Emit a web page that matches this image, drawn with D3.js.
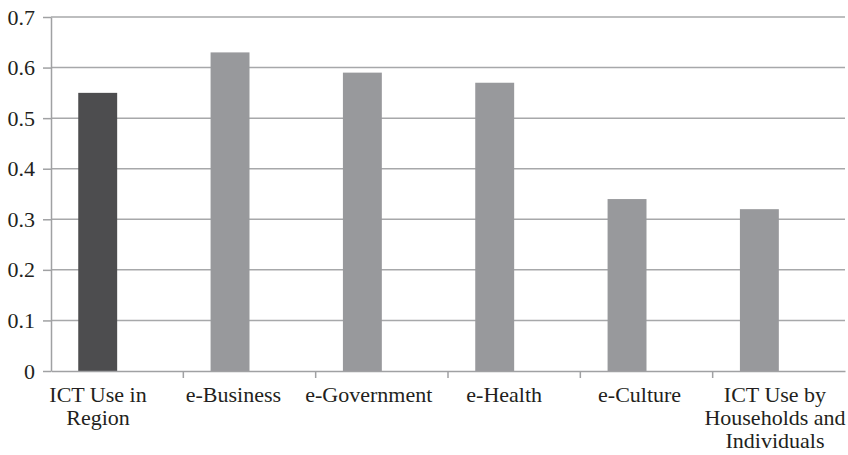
<!DOCTYPE html>
<html>
<head>
<script src="https://d3js.org/d3.v7.min.js" charset="utf-8"></script>
<style>
  body { margin: 0; background: #fff; }
  text { font-family: "Liberation Serif", "DejaVu Serif", serif; fill: #231f20; }
</style>
</head>
<body>
<script>
// data
var categories = ["ICT Use in Region", "e-Business", "e-Government", "e-Health", "e-Culture", "ICT Use by Households and Individuals"];
var labelLines = [["ICT Use in", "Region"], ["e-Business"], ["e-Government"], ["e-Health"], ["e-Culture"], ["ICT Use by", "Households and", "Individuals"]];
var values = [0.55, 0.63, 0.59, 0.57, 0.34, 0.32];
var barColors = ["#4d4d4f", "#98999c", "#98999c", "#98999c", "#98999c", "#98999c"];
var yTicks = [0, 0.1, 0.2, 0.3, 0.4, 0.5, 0.6, 0.7];

var w = 848, h = 455;
var mLeft = 51, mRight = 845, mTop = 17, mBottom = 371;
var fontSize = "22px";

var svg = d3.select("body").append("svg")
  .attr("width", w)
  .attr("height", h);

var x = d3.scaleBand()
  .domain(categories)
  .range([mLeft, mRight]);

// bars sit in the first slot of a two-slot cluster
var slot = d3.scaleBand()
  .domain(["a", "b"])
  .range([0, x.bandwidth()])
  .paddingOuter(0.7);

// labels in the original are spread a bit wider than the bands
var xLabel = d3.scalePoint()
  .domain(categories)
  .range([98, 775]);

var y = d3.scaleLinear()
  .domain([0, 0.7])
  .range([mBottom, mTop]);

// gridlines
svg.append("g")
  .selectAll("line")
  .data(yTicks.filter(d => d > 0))
  .enter()
  .append("line")
  .attr("x1", mLeft)
  .attr("x2", mRight)
  .attr("y1", d => y(d))
  .attr("y2", d => y(d))
  .attr("stroke", "#a7a8aa")
  .attr("stroke-width", 1.5);

// bars
svg.append("g")
  .selectAll("rect")
  .data(values)
  .enter()
  .append("rect")
  .attr("x", (d, i) => x(categories[i]) + slot("a"))
  .attr("width", slot.bandwidth())
  .attr("y", d => y(d))
  .attr("height", d => y(0) - y(d))
  .attr("fill", (d, i) => barColors[i]);

// x axis
var xAxis = d3.axisBottom(x)
  .tickSize(0)
  .tickSizeOuter(0)
  .tickFormat("");

var gx = svg.append("g")
  .attr("transform", "translate(0," + mBottom + ")")
  .call(xAxis);
gx.select("path").attr("stroke", "#a0a1a3").attr("stroke-width", 1.5);

// category dividers
gx.selectAll(".divider")
  .data(categories.slice(1))
  .enter()
  .append("line")
  .attr("x1", d => x(d))
  .attr("x2", d => x(d))
  .attr("y1", 0)
  .attr("y2", 7)
  .attr("stroke", "#a0a1a3")
  .attr("stroke-width", 1.5);

// y axis
var yAxis = d3.axisLeft(y)
  .tickValues(yTicks)
  .tickFormat(d => d === 0 ? "0" : d3.format(".1f")(d))
  .tickSize(8)
  .tickSizeOuter(0)
  .tickPadding(8);

var gy = svg.append("g")
  .attr("transform", "translate(" + mLeft + ",0)")
  .call(yAxis);
gy.selectAll("path").attr("stroke", "#a0a1a3").attr("stroke-width", 1.5);
gy.selectAll("line").attr("stroke", "#a0a1a3").attr("stroke-width", 1.5);
gy.selectAll("text")
  .attr("font-size", fontSize)
  .attr("fill", "#231f20");

// category labels
var lab = svg.append("g")
  .selectAll("text")
  .data(categories)
  .enter()
  .append("text")
  .attr("text-anchor", "middle")
  .attr("x", d => xLabel(d))
  .attr("y", mBottom + 31)
  .style("font-size", fontSize);

lab.each(function(d, i) {
  var t = d3.select(this);
  labelLines[i].forEach(function(line, j) {
    t.append("tspan")
      .attr("x", xLabel(d))
      .attr("dy", j === 0 ? 0 : 23)
      .text(line);
  });
});
</script>
</body>
</html>
